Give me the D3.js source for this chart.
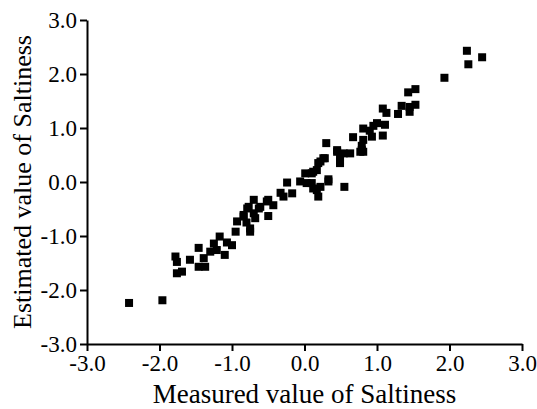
<!DOCTYPE html>
<html>
<head>
<meta charset="utf-8">
<script src="https://cdn.jsdelivr.net/npm/d3@7"></script>
<style>
  body { margin: 0; background: #fff; }
  svg text { font-family: "Liberation Serif", "Times New Roman", serif; fill: #000; }
</style>
</head>
<body>
<script>
// measured vs estimated saltiness
var measured = [
  -2.42, -1.96, -1.78, -1.76, -1.76, -1.69, -1.58, -1.46, -1.39, -1.37,
  -1.46, -1.30, -1.25, -1.21, -1.17, -1.10, -1.07, -1.00, -0.95, -0.93,
  -0.84, -0.80, -0.77, -0.75, -0.68, -0.50, -0.79, -0.84, -0.70, -0.70,
  -0.61, -0.50, -0.43, -0.52, -0.33, -0.29, -0.17, -0.24, -0.06, 0.03,
  0.10, 0.12, 0.22, 0.19, 0.17, 0.33, 0.55, 0.01, 0.10, 0.17,
  0.12, 0.22, 0.28, 0.19, 0.33, 0.49, 0.49, 0.26, 0.30, 0.45,
  0.45, 0.54, 0.63, 0.49, 0.77, 0.81, 0.79, 0.67, 0.79, 0.81,
  0.93, 1.08, 0.90, 0.81, 0.95, 1.00, 1.11, 1.08, 1.13, 1.29,
  1.34, 1.45, 1.45, 1.53, 1.43, 1.53, 1.93, 2.24, 2.26, 2.45,
  -0.63, -0.75
];
var estimated = [
  -2.24, -2.19, -1.38, -1.48, -1.69, -1.66, -1.44, -1.22, -1.41, -1.57,
  -1.57, -1.29, -1.14, -1.26, -1.01, -1.35, -1.12, -1.17, -0.92, -0.73,
  -0.61, -0.75, -0.46, -0.92, -0.67, -0.63, -0.49, -0.64, -0.58, -0.33,
  -0.46, -0.33, -0.43, -0.36, -0.20, -0.27, -0.21, -0.01, 0.01, -0.02,
  -0.02, -0.12, -0.09, -0.27, -0.15, 0.01, -0.09, 0.16, 0.16, 0.22,
  0.19, 0.38, 0.44, 0.35, 0.05, 0.35, 0.38, 0.44, 0.72, 0.56,
  0.59, 0.53, 0.53, 0.47, 0.56, 0.56, 0.59, 0.83, 0.67, 0.78,
  0.84, 0.86, 0.95, 0.99, 1.04, 1.09, 1.06, 1.36, 1.28, 1.26,
  1.41, 1.39, 1.30, 1.43, 1.66, 1.72, 1.93, 2.43, 2.18, 2.31,
  -0.49, -0.86
];
var tickValues = [-3, -2, -1, 0, 1, 2, 3];
var tickLabels = ["-3.0", "-2.0", "-1.0", "0.0", "1.0", "2.0", "3.0"];
var xTitle = "Measured value of Saltiness";
var yTitle = "Estimated value of Saltiness";

var W = 537, H = 409;
var svg = d3.select("body").append("svg")
  .attr("width", W)
  .attr("height", H);

var x = d3.scaleLinear().domain([-3, 3]).range([87, 522]);
var y = d3.scaleLinear().domain([-3, 3]).range([344, 20]);

function fmt(d, i){ return tickLabels[i]; }

// axes
var xAxis = svg.append("g")
  .attr("transform", "translate(0," + y(-3) + ")")
  .call(d3.axisBottom(x).tickValues(tickValues).tickSize(7).tickSizeOuter(0).tickFormat(fmt));
var yAxis = svg.append("g")
  .attr("transform", "translate(" + x(-3) + ",0)")
  .call(d3.axisLeft(y).tickValues(tickValues).tickSize(7).tickSizeOuter(0).tickFormat(fmt));

[xAxis, yAxis].forEach(function(a){
  a.select(".domain").attr("stroke", "#000").attr("stroke-width", 2);
  a.selectAll(".tick line").attr("stroke", "#000").attr("stroke-width", 2);
  a.selectAll(".tick text").style("font-size", "23px");
});
xAxis.selectAll(".tick text").attr("dy", "0.8em").attr("y", 9);
yAxis.selectAll(".tick text").attr("x", -10).attr("dy", "0.34em");

// points
var pts = measured.map(function(m, i){ return {m: m, e: estimated[i]}; });
var s = 8;
svg.selectAll("rect.pt")
  .data(pts)
  .enter()
  .append("rect")
  .attr("class", "pt")
  .attr("x", function(d){ return x(d.m) - s / 2; })
  .attr("y", function(d){ return y(d.e) - s / 2; })
  .attr("width", s)
  .attr("height", s)
  .style("fill", "#000");

// titles
svg.append("text")
  .attr("x", (x(-3) + x(3)) / 2)
  .attr("y", 403)
  .attr("text-anchor", "middle")
  .style("font-size", "27px")
  .text(xTitle);
svg.append("text")
  .attr("transform", "translate(31," + (y(-3) + y(3)) / 2 + ") rotate(-90)")
  .attr("text-anchor", "middle")
  .style("font-size", "26px")
  .text(yTitle);
</script>
</body>
</html>
